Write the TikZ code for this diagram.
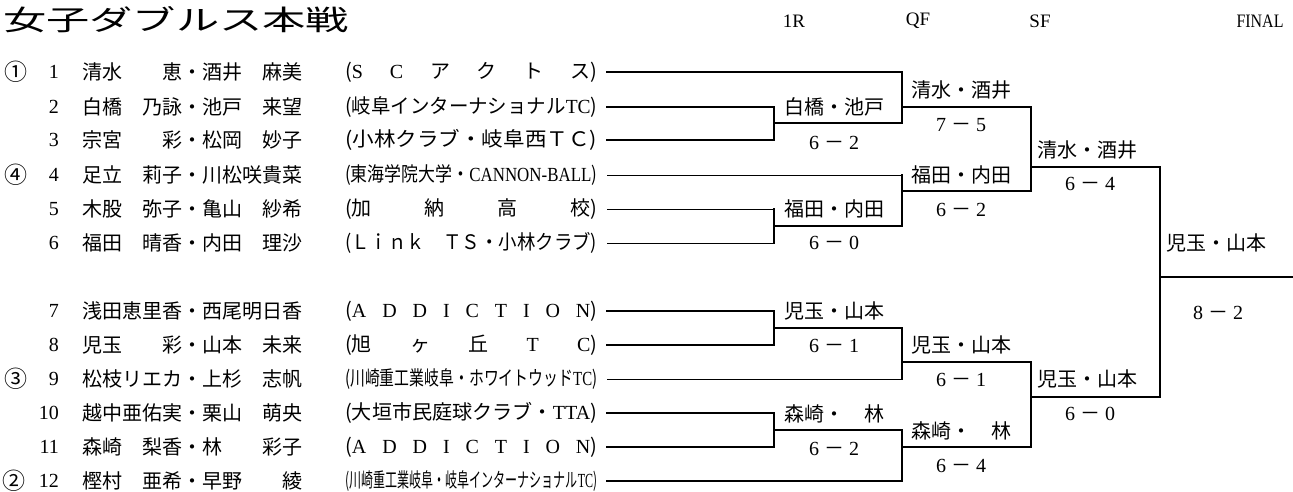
\documentclass[tikz,border=0pt]{standalone}
\usepackage{fontspec}
\usepackage{graphicx}
\setmainfont{Liberation Serif}
\newfontfamily\jp{Noto Sans CJK JP}
\newcommand\pr[2]{\hbox to 5em{#1\hfil #2}}
\newcommand\lt[1]{{\rmfamily #1}}
\newcommand\clubfit[1]{\resizebox{252pt}{\height}{#1}}
\newcommand\clubsp[1]{\hbox to 252pt{#1}}
\newcommand\scr[2]{\lt{#1}\hspace{5pt}－\hspace{5pt}\lt{#2}}
\tikzset{
  jpf/.style={inner sep=0pt, font=\jp\fontsize{20}{20}\selectfont},
  nm/.style={jpf, anchor=west},
  cl/.style={jpf, anchor=west},
  num/.style={inner sep=0pt, anchor=east, font=\fontsize{20}{20}\selectfont},
  seed/.style={inner sep=0pt, font=\jp\fontsize{23}{23}\selectfont},
  hd/.style={inner sep=0pt, font=\fontsize{19}{19}\selectfont},
  win/.style={jpf},
  sco/.style={jpf},
  th/.style={line width=1.8pt, line cap=rect},
  tn/.style={line width=1pt},
}
\begin{document}
\begin{tikzpicture}[x=1pt,y=-1pt]
\useasboundingbox (0,0) rectangle (1293,492);
% title and headers
\node[jpf, anchor=west] (title) at (3,20) {\resizebox{346pt}{\height}{\jp\fontsize{28}{28}\selectfont 女子ダブルス本戦}};
\node[hd] (h1) at (794,21) {1R};
\node[hd] (h2) at (918,21) {QF};
\node[hd] (h3) at (1040,21) {SF};
\node[hd] (h4) at (1260,21) {\resizebox{47pt}{\height}{FINAL}};
% seeds
\node[seed] (sd1) at (16,72) {①};
\node[seed] (sd4) at (16,175) {④};
\node[seed] (sd3) at (16,379) {③};
\node[seed] (sd2) at (14,481) {②};
% numbers
\foreach \i/\y in {1/72,2/107,3/140,4/175,5/209,6/243,7/311,8/345,9/379,10/413,11/447,12/481}
  \node[num] (n\i) at (59,\y) {\i};
% names
\node[nm] (p1) at (82,72) {\pr{清水}{恵}・\pr{酒井}{麻美}};
\node[nm] (p2) at (82,107) {\pr{白橋}{乃詠}・\pr{池戸}{来望}};
\node[nm] (p3) at (82,140) {\pr{宗宮}{彩}・\pr{松岡}{妙子}};
\node[nm] (p4) at (82,175) {\pr{足立}{莉子}・\pr{川松}{咲貴菜}};
\node[nm] (p5) at (82,209) {\pr{木股}{弥子}・\pr{亀山}{紗希}};
\node[nm] (p6) at (82,243) {\pr{福田}{晴香}・\pr{内田}{理沙}};
\node[nm] (p7) at (82,311) {\pr{浅田}{恵里香}・\pr{西尾}{明日香}};
\node[nm] (p8) at (82,345) {\pr{児玉}{彩}・\pr{山本}{未来}};
\node[nm] (p9) at (82,379) {\pr{松枝}{リエカ}・\pr{上杉}{志帆}};
\node[nm] (p10) at (82,413) {\pr{越中}{亜佑実}・\pr{栗山}{萌央}};
\node[nm] (p11) at (82,447) {\pr{森崎}{梨香}・\pr{林}{彩子}};
\node[nm] (p12) at (82,481) {\pr{樫村}{亜希}・\pr{早野}{綾}};
% clubs
\node[cl] (c1) at (345,72) {\clubsp{(\lt{S}\hfil \lt{C}\hfil ア\hfil ク\hfil ト\hfil ス)}};
\node[cl] (c2) at (345,107) {\clubfit{(岐阜インターナショナル\lt{TC})}};
\node[cl] (c3) at (345,140) {\clubfit{(小林クラブ・岐阜西ＴＣ)}};
\node[cl] (c4) at (345,175) {\clubfit{(東海学院大学・\lt{CANNON-BALL})}};
\node[cl] (c5) at (345,209) {\clubsp{(加\hfil 納\hfil 高\hfil 校)}};
\node[cl] (c6) at (345,243) {\clubfit{(Ｌｉｎｋ　ＴＳ・小林クラブ)}};
\node[cl] (c7) at (345,311) {\clubsp{(\lt{A}\hfil \lt{D}\hfil \lt{D}\hfil \lt{I}\hfil \lt{C}\hfil \lt{T}\hfil \lt{I}\hfil \lt{O}\hfil \lt{N})}};
\node[cl] (c8) at (345,345) {\clubsp{(旭\hfil ヶ\hfil 丘\hfil \lt{T}\hfil \lt{C})}};
\node[cl] (c9) at (345,379) {\clubfit{(川崎重工業岐阜・ホワイトウッド\lt{TC})}};
\node[cl] (c10) at (345,413) {\clubfit{(大垣市民庭球クラブ・\lt{TTA})}};
\node[cl] (c11) at (345,447) {\clubsp{(\lt{A}\hfil \lt{D}\hfil \lt{D}\hfil \lt{I}\hfil \lt{C}\hfil \lt{T}\hfil \lt{I}\hfil \lt{O}\hfil \lt{N})}};
\node[cl] (c12) at (345,481) {\clubfit{(川崎重工業岐阜・岐阜インターナショナル\lt{TC})}};
% bracket coordinates
\foreach \i/\y in {1/72,2/107,3/140,4/175,5/209,6/243,7/311,8/345,9/379,10/413,11/447,12/481}
  \coordinate (a\i) at (607,\y);
\coordinate (b1) at (902,72);
\coordinate (b2) at (774,107);
\coordinate (b3) at (774,140);
\coordinate (b4) at (902,175);
\coordinate (b5) at (774,209);
\coordinate (b6) at (774,243);
\coordinate (b7) at (774,311);
\coordinate (b8) at (774,345);
\coordinate (b9) at (902,379);
\coordinate (b10) at (774,413);
\coordinate (b11) at (774,447);
\coordinate (b12) at (902,481);
\coordinate (r1a) at (774,123);
\coordinate (r1b) at (774,226);
\coordinate (r1c) at (774,328);
\coordinate (r1d) at (774,430);
\coordinate (q1) at (902,107);
\coordinate (q2) at (902,191);
\coordinate (q3) at (902,362);
\coordinate (q4) at (902,447);
\coordinate (s1t) at (1031,107);
\coordinate (s1) at (1031,167);
\coordinate (s2t) at (1031,362);
\coordinate (s2) at (1031,397);
\coordinate (ft) at (1160,167);
\coordinate (fm) at (1160,277);
\coordinate (fe) at (1293,277);
% top half
\draw[th] (a1) -- (b1) |- (r1a);
\draw[th] (a2) -- (b2) -- (b3) -- (a3);
\draw[th] (q1) -- (s1t) |- (q2);
\draw[tn] (a4) -- (b4);
\draw[th] (b4) |- (r1b);
\draw[tn] (a5) -- (b5);
\draw[tn] (a6) -- (b6);
\draw[th] (b5) -- (b6);
\draw[th] (s1) -- (ft) |- (s2);
\draw[th] (fm) -- (fe);
% bottom half
\draw[th] (a7) -- (b7) -- (b8) -- (a8);
\draw[th] (r1c) -| (b9);
\draw[tn] (a9) -- (b9);
\draw[th] (q3) -- (s2t) |- (q4);
\draw[th] (a10) -- (b10) -- (b11) -- (a11);
\draw[th] (r1d) -| (b12) -- (a12);
% winners and scores
\node[win] (w1) at (834,107) {白橋・池戸};
\node[sco] (x1) at (834,143) {\scr{6}{2}};
\node[win] (w2) at (834,209) {福田・内田};
\node[sco] (x2) at (834,243) {\scr{6}{0}};
\node[win] (w3) at (834,311) {児玉・山本};
\node[sco] (x3) at (834,346) {\scr{6}{1}};
\node[win] (w4) at (834,414) {森崎・　林};
\node[sco] (x4) at (834,449) {\scr{6}{2}};
\node[win] (w5) at (961,90) {清水・酒井};
\node[sco] (x5) at (961,125) {\scr{7}{5}};
\node[win] (w6) at (961,175) {福田・内田};
\node[sco] (x6) at (961,210) {\scr{6}{2}};
\node[win] (w7) at (961,345) {児玉・山本};
\node[sco] (x7) at (961,380) {\scr{6}{1}};
\node[win] (w8) at (961,431) {森崎・　林};
\node[sco] (x8) at (961,466) {\scr{6}{4}};
\node[win] (w9) at (1087,150) {清水・酒井};
\node[sco] (x9) at (1090,184) {\scr{6}{4}};
\node[win] (w10) at (1087,379) {児玉・山本};
\node[sco] (x10) at (1090,414) {\scr{6}{0}};
\node[win] (w11) at (1216,243) {児玉・山本};
\node[sco] (x11) at (1218,313) {\scr{8}{2}};
\end{tikzpicture}
\end{document}
